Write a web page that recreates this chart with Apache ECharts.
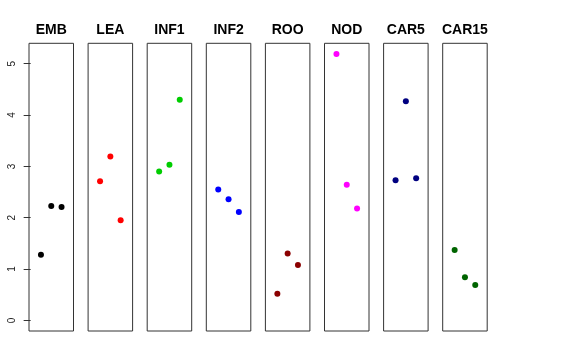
<!DOCTYPE html>
<html><head><meta charset="utf-8">
<script src="https://cdn.jsdelivr.net/npm/echarts@6/dist/echarts.min.js"></script>
<style>html,body{margin:0;padding:0;background:#fff}#c{width:576px;height:360px}</style>
</head><body><div id="c"></div>
<script>
const categories = ["EMB","LEA","INF1","INF2","ROO","NOD","CAR5","CAR15"];
const colors = ["#000000","#FF0000","#00CD00","#0000FF","#8B0000","#FF00FF","#000080","#006400"];
const xPositions = [1,2,3];
const EMB = [1.28,2.23,2.21];
const LEA = [2.71,3.19,1.95];
const INF1 = [2.90,3.03,4.30];
const INF2 = [2.55,2.36,2.11];
const ROO = [0.52,1.30,1.08];
const NOD = [5.19,2.64,2.18];
const CAR5 = [2.73,4.27,2.77];
const CAR15 = [1.37,0.84,0.69];
const values = [EMB,LEA,INF1,INF2,ROO,NOD,CAR5,CAR15];
const yTicks = [0,1,2,3,4,5];

const chart = echarts.init(document.getElementById('c'), null, {renderer:'canvas'});
const grids=[], xAxes=[], yAxes=[], series=[], texts=[];
const gLeft0=29, gStep=59.1, gW=44.5, gTop=43.3, gH=287.7;
categories.forEach((c,i)=>{
  const gl = gLeft0+gStep*i;
  grids.push({left:gl, top:gTop, width:gW, height:gH, show:true, borderColor:'#333', borderWidth:1, backgroundColor:'transparent', containLabel:false});
  xAxes.push({type:'value', gridIndex:i, min:-0.16, max:4.16, show:false});
  yAxes.push({type:'value', gridIndex:i, min:-0.2076, max:5.3976,
    splitLine:{show:false}, axisLine:{show:false},
    axisTick:{show:i===0, length:7, customValues:yTicks, lineStyle:{color:'#333'}},
    axisLabel:{show:i===0, customValues:yTicks, rotate:90, margin:12, fontSize:10, color:'#222', fontFamily:'Liberation Sans, Arial, sans-serif'}
  });
  series.push({type:'scatter', xAxisIndex:i, yAxisIndex:i, symbolSize:6,
    itemStyle:{color:colors[i], opacity:1}, data: values[i].map((v,j)=>[xPositions[j], v])});
  texts.push({type:'text', left:'auto', x: gl + gW/2, y: 30,
    style:{text:c, textAlign:'center', textVerticalAlign:'middle', fill:'#000',
      font:'bold 14px "Liberation Sans", Arial, sans-serif'}});
});
chart.setOption({animation:false, grid:grids, xAxis:xAxes, yAxis:yAxes, series:series, graphic:texts});
</script></body></html>
